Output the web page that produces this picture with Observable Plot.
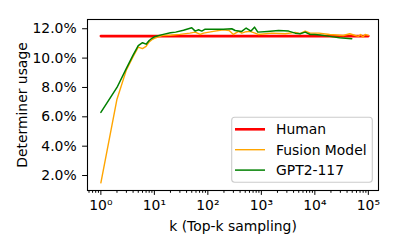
<!DOCTYPE html>
<html><head><meta charset="utf-8">
<script src="https://cdn.jsdelivr.net/npm/d3@7"></script>
<script src="https://cdn.jsdelivr.net/npm/@observablehq/plot@0.6"></script>
<style>body{margin:0;background:#fff}</style>
</head><body><div id="chart"></div>
<script>
const seriesNames = ["Human", "Fusion Model", "GPT2-117"];
const seriesColors = ["#ff0000", "#ffa500", "#008000"];

const humanK = [1, 100000];
const humanV = [11.5, 11.5];

const fusionK = [1,2,3,4,5,6,7,8,9,10,14,20,30,46,58,72,83,127,195,250,300,375,430,520,610,760,880,1560,2780,4300,5300,6600,8200,12000,19000,34000,45000,57000,65000,72000,79000,87000,100000];
const fusionV = [1.5,7.2,9.2,10.1,10.75,10.65,10.8,11.1,11.25,11.35,11.54,11.56,11.62,11.7,11.77,11.61,11.7,11.82,11.93,11.88,11.61,11.82,11.7,11.8,11.82,11.7,11.61,11.7,11.66,11.75,11.66,11.84,11.7,11.7,11.61,11.54,11.66,11.54,11.48,11.61,11.43,11.61,11.55];

const gptK = [1,2,3,4,5,6,7,8,9,10,14,20,25,35,50,58,67,77,89,120,195,280,324,430,520,640,745,860,1300,2100,3230,4300,5300,6600,8200,10000,12500,19000,29000,49000];
const gptV = [6.3,8.0,9.3,10.2,10.85,11.05,10.95,11.2,11.35,11.45,11.6,11.72,11.77,11.9,12.07,11.84,11.93,11.84,11.97,11.97,11.97,12.0,11.88,11.82,12.05,11.84,12.11,11.77,11.82,11.88,11.84,11.7,11.66,11.77,11.61,11.61,11.58,11.48,11.39,11.32];

const yTicks = [2, 4, 6, 8, 10, 12];
const xMajor = [1, 10, 100, 1000, 10000, 100000];
const supDigits = {"0":"⁰","1":"¹","2":"²","3":"³","4":"⁴","5":"⁵","-":"⁻"};

const rows = (k, v) => k.map((d, i) => ({k: d, v: v[i]}));
const human = rows(humanK, humanV);
const fusion = rows(fusionK, fusionV);
const gpt = rows(gptK, gptV);

const xDomain = [10 ** -0.25, 10 ** 5.19];
const xMinor = [];
for (let e = -1; e <= 5; e++) for (let m = 2; m <= 9; m++) {
  const t = m * 10 ** e;
  if (t >= xDomain[0] && t <= xDomain[1]) xMinor.push(t);
}

const font = "DejaVu Sans";
const fs = 13.9;

const svg = Plot.plot({
  width: 399, height: 249,
  marginLeft: 87, marginRight: 21, marginTop: 19, marginBottom: 59,
  style: {fontFamily: font, fontSize: fs + "px", background: "white", color: "black"},
  x: {type: "log", domain: xDomain},
  y: {domain: [0.98, 12.63]},
  marks: [
    Plot.axisY({ticks: yTicks, tickFormat: d => d.toFixed(1) + "%", tickSize: 4.9, tickPadding: 6, label: null}),
    Plot.axisX({ticks: xMajor, tickFormat: d => "10" + String(Math.round(Math.log10(d))).split("").map(c => supDigits[c]).join(""), tickSize: 4.9, tickPadding: 5, label: null}),
    Plot.axisX({ticks: xMinor, tickFormat: () => "", tickSize: 2.8, label: null}),
    Plot.line(human, {x: "k", y: "v", stroke: seriesColors[0], strokeWidth: 2.6}),
    Plot.line(fusion, {x: "k", y: "v", stroke: seriesColors[1], strokeWidth: 1.4}),
    Plot.line(gpt, {x: "k", y: "v", stroke: seriesColors[2], strokeWidth: 1.5}),
    Plot.frame({stroke: "black", strokeWidth: 1.1}),
    Plot.text(["Determiner usage"], {text: d => d, frameAnchor: "left", dx: -65, rotate: -90, textAnchor: "middle", lineAnchor: "middle", fill: "black"}),
    Plot.text(["k (Top-k sampling)"], {text: d => d, frameAnchor: "bottom", dy: 36.5, textAnchor: "middle", lineAnchor: "middle", fill: "black"})
  ]
});

// legend
const lg = d3.select(svg).append("g").attr("font-family", font).attr("font-size", fs).attr("text-anchor", "start");
const L = {x: 231.7, y: 117.3, w: 140.6, h: 65, row0: 129.3, rowStep: 20.4, lx0: 235, lx1: 265, tx: 276};
lg.append("rect").attr("x", L.x).attr("y", L.y).attr("width", L.w).attr("height", L.h)
  .attr("rx", 3).attr("fill", "white").attr("fill-opacity", 0.8).attr("stroke", "#cccccc").attr("stroke-width", 1.1);
const widths = [2.6, 1.4, 1.5];
seriesNames.forEach((name, i) => {
  const yy = L.row0 + i * L.rowStep;
  lg.append("line").attr("x1", L.lx0).attr("x2", L.lx1).attr("y1", yy).attr("y2", yy)
    .attr("stroke", seriesColors[i]).attr("stroke-width", widths[i]);
  lg.append("text").attr("x", L.tx).attr("y", yy).attr("dy", "0.36em").attr("fill", "black")
    .attr("text-anchor", "start").text(name);
});

document.getElementById("chart").appendChild(svg);
</script>
</body></html>
